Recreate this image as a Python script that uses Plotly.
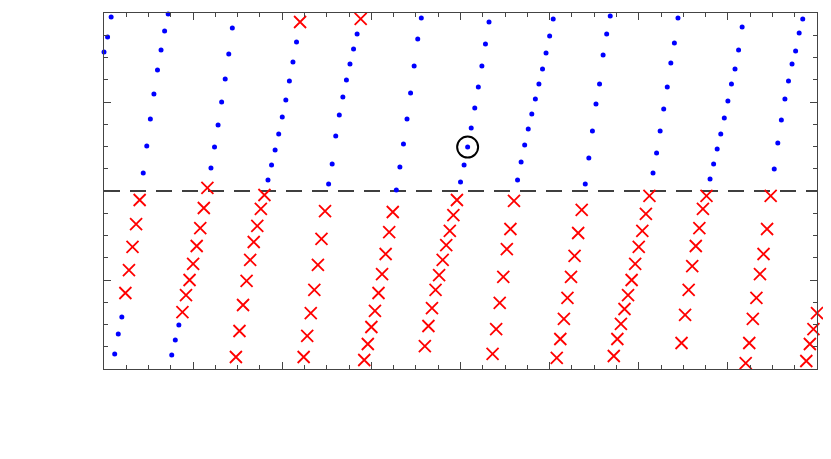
import plotly.graph_objects as go

# Blue dot series (x, y)
blue_x = [0.00, 0.04, 0.08, 0.12, 0.16, 0.20,
          0.44, 0.48, 0.52, 0.56, 0.60, 0.64, 0.68, 0.72, 0.76, 0.80, 0.84,
          1.20, 1.24, 1.28, 1.32, 1.36, 1.40, 1.44,
          1.84, 1.88, 1.92, 1.96, 2.00, 2.04, 2.08, 2.12, 2.16,
          2.52, 2.56, 2.60, 2.64, 2.68, 2.72, 2.76, 2.80, 2.84,
          3.28, 3.32, 3.36, 3.40, 3.44, 3.48, 3.52, 3.56,
          4.00, 4.04, 4.08, 4.12, 4.16, 4.20, 4.24, 4.28, 4.32,
          4.64, 4.68, 4.72, 4.76, 4.80, 4.84, 4.88, 4.92, 4.96, 5.00, 5.04,
          5.40, 5.44, 5.48, 5.52, 5.56, 5.60, 5.64, 5.68,
          6.16, 6.20, 6.24, 6.28, 6.32, 6.36, 6.40, 6.44,
          6.80, 6.84, 6.88, 6.92, 6.96, 7.00, 7.04, 7.08, 7.12, 7.16,
          7.52, 7.56, 7.60, 7.64, 7.68, 7.72, 7.76, 7.80, 7.84]
blue_y = [1.562, 1.730, 1.955, -1.831, -1.607, -1.416,
          0.202, 0.506, 0.809, 1.090, 1.360, 1.584, 1.798, 1.989, -1.843, -1.674, -1.506,
          0.258, 0.494, 0.742, 1.000, 1.258, 1.539, 1.831,
          0.124, 0.292, 0.461, 0.640, 0.831, 1.022, 1.236, 1.449, 1.674,
          0.079, 0.303, 0.618, 0.854, 1.056, 1.247, 1.427, 1.596, 1.764,
          0.011, 0.270, 0.528, 0.809, 1.101, 1.404, 1.708, 1.944,
          0.101, 0.292, 0.494, 0.708, 0.933, 1.169, 1.404, 1.652, 1.899,
          0.124, 0.326, 0.517, 0.697, 0.865, 1.034, 1.202, 1.371, 1.551, 1.742, 1.933,
          0.079, 0.371, 0.674, 0.978, 1.202, 1.528, 1.764, 1.966,
          0.202, 0.427, 0.674, 0.921, 1.169, 1.438, 1.663, 1.944,
          0.135, 0.303, 0.472, 0.640, 0.820, 1.011, 1.202, 1.371, 1.584, 1.843,
          0.247, 0.539, 0.798, 1.034, 1.236, 1.427, 1.573, 1.775, 1.933]

# Red cross series (x, y)
red_x = [0.24, 0.28, 0.32, 0.36, 0.40,
         0.88, 0.92, 0.96, 1.00, 1.04, 1.08, 1.12, 1.16,
         1.48, 1.52, 1.56, 1.60, 1.64, 1.68, 1.72, 1.76, 1.80,
         2.20, 2.24, 2.28, 2.32, 2.36, 2.40, 2.44, 2.48,
         2.88, 2.92, 2.96, 3.00, 3.04, 3.08, 3.12, 3.16, 3.20, 3.24,
         3.60, 3.64, 3.68, 3.72, 3.76, 3.80, 3.84, 3.88, 3.92, 3.96,
         4.36, 4.40, 4.44, 4.48, 4.52, 4.56, 4.60,
         5.08, 5.12, 5.16, 5.20, 5.24, 5.28, 5.32, 5.36,
         5.72, 5.76, 5.80, 5.84, 5.88, 5.92, 5.96, 6.00, 6.04, 6.08, 6.12,
         6.48, 6.52, 6.56, 6.60, 6.64, 6.68, 6.72, 6.76,
         7.20, 7.24, 7.28, 7.32, 7.36, 7.40, 7.44, 7.48,
         7.88, 7.92, 7.96, 8.00]
red_y = [-1.146, -0.888, -0.629, -0.371, -0.101,
         -1.360, -1.169, -1.000, -0.820, -0.618, -0.416, -0.191, 0.034,
         -1.865, -1.573, -1.281, -1.011, -0.775, -0.573, -0.393, -0.202, -0.045,
         1.899, -1.865, -1.629, -1.371, -1.112, -0.831, -0.539, -0.225,
         1.933, -1.899, -1.719, -1.528, -1.348, -1.146, -0.933, -0.708, -0.461, -0.236,
         -1.742, -1.517, -1.315, -1.112, -0.944, -0.775, -0.607, -0.449, -0.270, -0.101,
         -1.831, -1.551, -1.258, -0.966, -0.652, -0.427, -0.112,
         -1.876, -1.663, -1.438, -1.202, -0.966, -0.730, -0.472, -0.213,
         -1.854, -1.663, -1.494, -1.326, -1.169, -1.000, -0.820, -0.629, -0.449, -0.258, -0.056,
         -1.708, -1.393, -1.112, -0.843, -0.618, -0.416, -0.202, -0.056,
         -1.933, -1.708, -1.438, -1.202, -0.933, -0.708, -0.427, -0.056,
         -1.910, -1.719, -1.551, -1.371]

# Highlighted point
mark_x = [4.08]
mark_y = [0.494]

fig = go.Figure()
fig.add_trace(go.Scatter(x=blue_x, y=blue_y, mode="markers", cliponaxis=False,
                         marker=dict(symbol="circle", size=5, color="#0000ff",
                                     line=dict(width=0))))
fig.add_trace(go.Scatter(x=red_x, y=red_y, mode="markers", cliponaxis=False,
                         marker=dict(symbol="x-thin", size=12, color="#ff0000",
                                     line=dict(width=1.8, color="#ff0000"))))
fig.add_trace(go.Scatter(x=mark_x, y=mark_y, mode="markers", cliponaxis=False,
                         marker=dict(symbol="circle-open", size=21, color="#000000",
                                     line=dict(width=2, color="#000000"))))

fig.add_hline(y=0, line=dict(color="black", width=1.5, dash="16px,10px"), layer="below")

axis_common = dict(showticklabels=False, ticks="inside", ticklen=7, tickwidth=1,
                   tickcolor="#444", showline=True, linecolor="#444", linewidth=1,
                   mirror="ticks", showgrid=False, zeroline=False,
                   minor=dict(ticks="inside", ticklen=4, tickwidth=1, tickcolor="#444",
                              dtick=0.25, showgrid=False))
fig.update_xaxes(range=[0, 8], dtick=1, tick0=0, **axis_common)
fig.update_yaxes(range=[-2, 2], dtick=1, tick0=0, **axis_common)

fig.update_layout(width=831, height=459, showlegend=False,
                  margin=dict(l=96, r=22, t=5, b=98),
                  plot_bgcolor="white", paper_bgcolor="white")

fig.write_html("out.html")
